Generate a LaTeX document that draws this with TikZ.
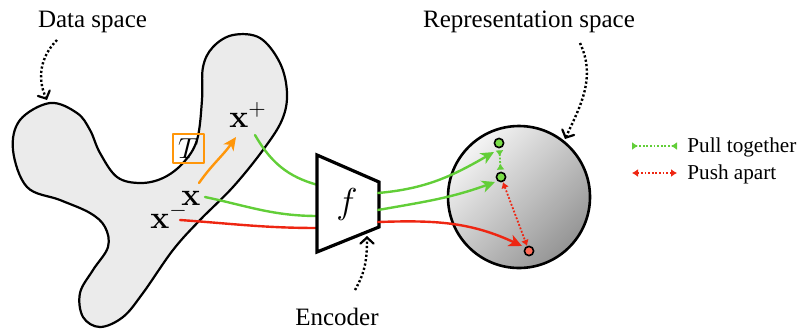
\RequirePackage{fix-cm}
\documentclass[tikz,border=0pt]{standalone}
\usepackage{amsmath,amssymb}
\usepackage[no-math]{fontspec}
\setmainfont{Liberation Serif}
\usetikzlibrary{arrows.meta,calc}
\definecolor{gr}{RGB}{98,206,56}
\definecolor{rd}{RGB}{238,38,18}
\definecolor{org}{RGB}{255,150,10}
\definecolor{grfill}{RGB}{122,222,72}
\definecolor{rdfill}{RGB}{255,108,88}
\definecolor{blob}{RGB}{235,235,235}

\begin{document}
\begin{tikzpicture}[x=0.5pt,y=0.5pt, line join=round, line cap=round,
	lbl/.style={font=\fontsize{12.5}{14}\selectfont, inner sep=0pt},
	leg/.style={font=\fontsize{10.6}{12}\selectfont, inner sep=0pt, anchor=base west},
	vec/.style={font=\fontsize{16}{18}\selectfont, inner sep=0pt, anchor=base west},
	pt/.style={circle, draw=black, line width=0.8pt, minimum size=4.6pt, inner sep=0pt},
	hint/.style={line width=1.2pt, line cap=butt, dash pattern=on 1.1pt off 1.1pt,
		-{Straight Barb[length=3pt,width=6.5pt,line cap=round,line width=1.1pt]}},
	flow/.style={line width=1.2pt, -{Stealth[length=6.5pt,width=6pt,inset=1.8pt]}},
	link/.style={line width=1.2pt},
	pull/.style={gr, line width=0.9pt, line cap=butt, dash pattern=on 0.9pt off 0.9pt,
		{Latex[reversed,length=3pt,width=4pt]}-{Latex[reversed,length=3pt,width=4pt]}},
	push/.style={rd, line width=0.9pt, line cap=butt, dash pattern=on 0.9pt off 0.9pt,
		{Latex[length=3pt,width=4pt]}-{Latex[length=3pt,width=4pt]}}]
	\useasboundingbox (0,0) rectangle (797,-328);
	% data space
	\filldraw[fill=blob, line width=1.1pt] plot[smooth cycle, tension=0.6] coordinates {
		(50,-103) (77,-113) (90,-130) (100,-153) (117,-177) (140,-183) (163,-178)
		(183,-163) (197,-140) (202,-100) (203,-67) (213,-47) (233,-35) (260,-38)
		(280,-63) (287,-93) (282,-120) (263,-150) (233,-187) (200,-220) (173,-250)
		(143,-293) (123,-317) (100,-327) (83,-317) (80,-293) (93,-270) (108,-247)
		(105,-227) (90,-213) (60,-200) (27,-187) (13,-150) (20,-120)};
	\node[lbl, anchor=base] (ds) at (92.5,-27) {Data space};
	\coordinate (ds1) at (57,-40);
	\coordinate (ds2) at (47,-100);
	\draw[hint] (ds1) to[out=225,in=115] (ds2);
	\node[vec] (xp) at (229,-127) {$\mathbf{x}^+$};
	\node[vec] (x) at (181,-205) {$\mathbf{x}$};
	\node[vec] (xm) at (150,-228) {$\mathbf{x}^-$};
	\node[draw=org, line width=1pt, minimum width=15.5pt, minimum height=14.5pt, inner sep=0pt,
		font=\fontsize{14.5}{16}\selectfont] (T) at (188.5,-148.5) {$T$};
	\coordinate (o0) at (199,-183);
	\coordinate (o1) at (236,-137);
	\draw[flow, org] (o0) to[out=55,in=235] (o1);
	% encoder
	\coordinate (E1) at (317,-155);
	\coordinate (E2) at (379,-182);
	\coordinate (E3) at (379,-227);
	\coordinate (E4) at (317,-252);
	\coordinate (a0) at (255,-135);
	\coordinate (a1) at (318,-185);
	\coordinate (b0) at (205,-197);
	\coordinate (b1) at (318,-216);
	\coordinate (c0) at (180,-220);
	\coordinate (c1) at (318,-228);
	\draw[link, gr] (a0) to[out=-60,in=165] (a1);
	\draw[link, gr] (b0) to[out=-12,in=180] (b1);
	\draw[link, rd] (c0) to[out=-4,in=180] (c1);
	\filldraw[fill=white, line width=1.6pt, line join=miter] (E1) -- (E2) -- (E3) -- (E4) -- cycle;
	\node[font=\fontsize{18}{20}\selectfont] (f) at (347,-204) {$f$};
	\node[lbl, anchor=base] (enc) at (337,-325) {Encoder};
	\coordinate (e0) at (355,-290);
	\coordinate (e1) at (367,-236);
	\draw[hint] (e0) to[out=60,in=-90] (e1);
	% representation space
	\coordinate (R) at (519,-197);
	\shade[top color=black!4, bottom color=black!42, shading angle=45] (R) circle (71);
	\draw[line width=1.3pt] (R) circle (71);
	\node[pt, fill=grfill] (z1) at (499,-143) {};
	\node[pt, fill=grfill] (z2) at (501,-177) {};
	\node[pt, fill=rdfill] (z3) at (529,-251) {};
	\coordinate (a2) at (378,-193);
	\coordinate (b2) at (378,-210);
	\coordinate (c2) at (378,-222);
	\coordinate (t1) at (494,-152);
	\coordinate (t2) at (495,-182);
	\coordinate (t3) at (522,-246);
	\draw[flow, gr] (a2) to[out=5,in=210] (t1);
	\draw[flow, gr] (b2) to[out=10,in=200] (t2);
	\draw[flow, rd] (c2) to[out=2,in=155] (t3);
	\draw[pull, shorten <=1pt, shorten >=1pt] (z1) -- (z2);
	\draw[push] (z2) -- (z3);
	\node[lbl, anchor=base] (rs) at (529,-27) {Representation space};
	\coordinate (rs1) at (580,-43);
	\coordinate (rs2) at (565,-139);
	\draw[hint] (rs1) to[out=-65,in=65] (rs2);
	% legend
	\coordinate (l1) at (632,-146);
	\coordinate (l2) at (677,-146);
	\coordinate (l3) at (632,-173);
	\coordinate (l4) at (677,-173);
	\draw[pull] (l1) -- (l2);
	\draw[push] (l3) -- (l4);
	\node[leg] (lg1) at (687,-152) {Pull together};
	\node[leg] (lg2) at (687,-179) {Push apart};
\end{tikzpicture}
\end{document}
